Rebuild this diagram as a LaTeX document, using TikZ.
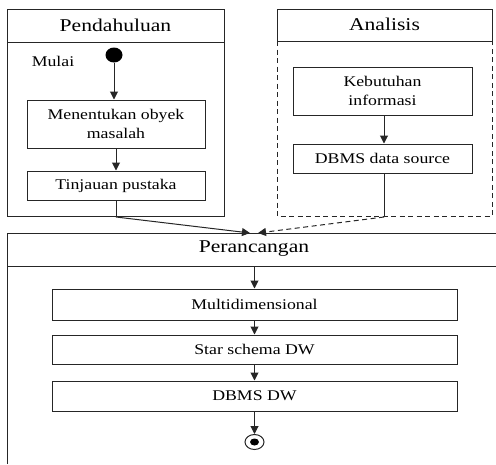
\documentclass[tikz,border=0pt]{standalone}
\usepackage{fontspec}
\setmainfont[FakeStretch=1.2]{Liberation Serif}
\usetikzlibrary{arrows.meta,shapes.geometric}
\newcommand{\bodyfont}{\fontsize{14.8}{19.5}\selectfont}
\newcommand{\titlefont}{\fontsize{18}{20}\selectfont}
\tikzset{
  frame/.style={draw=black!85, line width=1pt},
  dashframe/.style={draw=black!85, line width=1pt, dash pattern=on 5pt off 3.5pt},
  stepbox/.style={draw=black!85, line width=1pt, rectangle, inner sep=0pt, align=center, font=\bodyfont},
  titletext/.style={inner sep=0pt, font=\titlefont},
  flow/.style={draw=black!85, line width=1pt, -{Triangle[length=8pt,width=8pt]}},
  dflow/.style={draw=black!85, line width=1pt, dash pattern=on 5pt off 3.5pt, -{Triangle[length=8pt,width=8pt]}},
  plain/.style={draw=black!85, line width=1pt}
}
\begin{document}
\begin{tikzpicture}[x=1pt,y=-1pt]
\useasboundingbox (0,0) rectangle (496,464);
% Pendahuluan frame
\draw[frame] (7,9) rectangle (224,216);
\draw[frame] (7,42) -- (224,42);
\node[titletext] (tpend) at (115.5,25) {Pendahuluan};
% Analisis frame
\draw[frame] (277,9) rectangle (492,41);
\draw[dashframe] (277,41) -- (277,216) -- (492,216) -- (492,41);
\node[titletext] (tanal) at (384.5,24) {Analisis};
% Perancangan frame
\draw[frame] (7,464) -- (7,233) -- (496,233);
\draw[frame] (7,266) -- (496,266);
\node[titletext] (tperc) at (254,249) {Perancangan};
% Pendahuluan content
\node[font=\bodyfont, inner sep=0pt] (mulai) at (53,61) {Mulai};
\node[ellipse, fill=black, minimum width=17pt, minimum height=15pt, inner sep=0pt] (start) at (114,55) {};
\node[stepbox, minimum width=178pt, minimum height=48pt] (obyek) at (116,124) {Menentukan obyek\\masalah};
\node[stepbox, minimum width=178pt, minimum height=29pt] (tinjau) at (116,185.5) {Tinjauan pustaka};
% Analisis content
\node[stepbox, minimum width=179pt, minimum height=48pt] (kebut) at (382.5,91) {Kebutuhan\\informasi};
\node[stepbox, minimum width=179pt, minimum height=29pt] (dsrc) at (382.5,158.5) {DBMS data source};
% Perancangan content
\node[stepbox, minimum width=405pt, minimum height=31pt] (multi) at (254.5,304.5) {Multidimensional};
\node[stepbox, minimum width=405pt, minimum height=29pt] (star) at (254.5,349.5) {Star schema DW};
\node[stepbox, minimum width=405pt, minimum height=30pt] (dbdw) at (254.5,396) {DBMS DW};
\node[ellipse, draw=black!85, line width=1pt, minimum width=19pt, minimum height=15pt, inner sep=0pt] (end) at (254.5,442) {};
\node[ellipse, fill=black, minimum width=9pt, minimum height=7pt, inner sep=0pt] (endin) at (254.5,442) {};
% coordinates
\coordinate (jL) at (116,217);
\coordinate (tipL) at (250,233);
\coordinate (jR) at (384,217);
\coordinate (tipR) at (258,233);
\coordinate (phead) at (254.5,266);
% connectors
\draw[flow] (start) -- (start |- obyek.north);
\draw[flow] (obyek.south) -- (tinjau.north);
\draw[plain] (tinjau.south) -- (jL);
\draw[flow] (jL) -- (tipL);
\draw[flow] (kebut.south -| jR) -- (dsrc.north -| jR);
\draw[plain] (dsrc.south -| jR) -- (jR);
\draw[dflow] (jR) -- (tipR);
\draw[flow] (phead) -- (multi.north);
\draw[flow] (multi.south) -- (star.north);
\draw[flow] (star.south) -- (dbdw.north);
\draw[flow] (dbdw.south) -- (end.north);
\end{tikzpicture}
\end{document}
